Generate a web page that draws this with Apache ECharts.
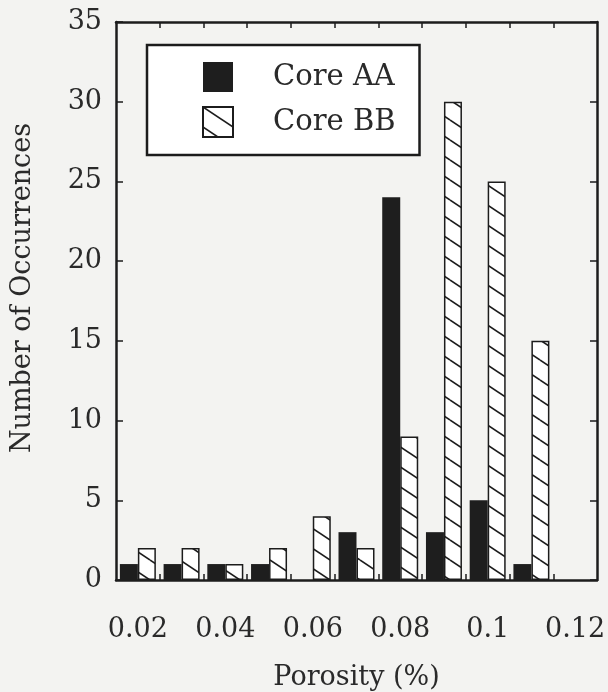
<!DOCTYPE html>
<html>
<head>
<meta charset="utf-8">
<script src="https://cdn.jsdelivr.net/npm/echarts@6/dist/echarts.min.js"></script>
<style>
  html, body { margin: 0; padding: 0; background: #f3f3f1; }
  #chart { width: 608px; height: 692px; }
</style>
</head>
<body>
<div id="chart"></div>
<script>
// porosity bins (bar pair centres)
const porosity = [0.02, 0.03, 0.04, 0.05, 0.06, 0.07, 0.08, 0.09, 0.10, 0.11];
const coreAA = [1, 1, 1, 1, 0, 3, 24, 3, 5, 1];
const coreBB = [2, 2, 1, 2, 4, 2, 9, 30, 25, 15];

// axis labels and bin-edge ticks
const xLabelValues = [0.02, 0.04, 0.06, 0.08, 0.1, 0.12];
const xTickValues = [0.025, 0.035, 0.045, 0.055, 0.065, 0.075, 0.085, 0.095, 0.105, 0.115];

const FONT = 'DejaVu Serif';
const INK = '#1c1c1c';
const TEXT = '#2a2a2a';

// diagonal hatch for Core BB
function hatchPattern() {
    const c = document.createElement('canvas');
    c.width = 30;
    c.height = 20;
    const ctx = c.getContext('2d');
    ctx.fillStyle = '#ffffff';
    ctx.fillRect(0, 0, 30, 20);
    ctx.strokeStyle = INK;
    ctx.lineWidth = 1.6;
    for (let k = -1; k <= 1; k++) {
        ctx.beginPath();
        ctx.moveTo(0, k * 20);
        ctx.lineTo(30, k * 20 + 20);
        ctx.stroke();
    }
    return c;
}

const chart = echarts.init(document.getElementById('chart'));

const lineStyle = { color: INK, width: 2.5 };
const tickStyle = { color: INK, width: 1.5 };

chart.setOption({
    backgroundColor: '#f3f3f1',
    animation: false,
    grid: { left: 116, right: 11, top: 22, bottom: 112, outerBoundsMode: 'none' },
    legend: {
        left: 147,
        top: 45,
        orient: 'vertical',
        backgroundColor: '#ffffff',
        borderColor: INK,
        borderWidth: 2.5,
        padding: [17, 24, 17, 55],
        itemWidth: 30,
        itemHeight: 30,
        itemGap: 14,
        icon: 'rect',
        textStyle: {
            fontFamily: FONT,
            fontSize: 29,
            color: TEXT,
            padding: [0, 0, 0, 35]
        },
        data: ['Core AA', 'Core BB']
    },
    xAxis: [{
        type: 'value',
        min: 0.015,
        max: 0.125,
        position: 'bottom',
        name: 'Porosity (%)',
        nameLocation: 'middle',
        nameGap: 84,
        nameTextStyle: { fontFamily: FONT, fontSize: 27, color: TEXT },
        axisLine: { onZero: false, lineStyle: lineStyle },
        splitLine: { show: false },
        axisTick: { inside: true, length: 6, customValues: xTickValues, lineStyle: tickStyle },
        axisLabel: {
            customValues: xLabelValues,
            margin: 36,
            fontFamily: FONT,
            fontSize: 27,
            color: TEXT
        }
    }, {
        type: 'value',
        min: 0.015,
        max: 0.125,
        position: 'top',
        axisLine: { onZero: false, lineStyle: lineStyle },
        splitLine: { show: false },
        axisTick: { inside: true, length: 6, customValues: xTickValues, lineStyle: tickStyle },
        axisLabel: { show: false }
    }],
    yAxis: [{
        type: 'value',
        min: 0,
        max: 35,
        interval: 5,
        position: 'left',
        name: 'Number of Occurrences',
        nameLocation: 'middle',
        nameGap: 80,
        nameTextStyle: { fontFamily: FONT, fontSize: 27, color: TEXT, padding: [0, 0, 0, 26] },
        axisLine: { show: true, onZero: false, lineStyle: lineStyle },
        splitLine: { show: false },
        axisTick: { show: true, inside: true, length: 7, lineStyle: tickStyle },
        axisLabel: { margin: 14, fontFamily: FONT, fontSize: 27, color: TEXT }
    }, {
        type: 'value',
        min: 0,
        max: 35,
        interval: 5,
        position: 'right',
        axisLine: { show: true, onZero: false, lineStyle: lineStyle },
        splitLine: { show: false },
        axisTick: { show: true, inside: true, length: 7, lineStyle: tickStyle },
        axisLabel: { show: false }
    }],
    series: [{
        name: 'Core AA',
        type: 'bar',
        barWidth: 18,
        barGap: '0%',
        itemStyle: { color: '#1e1e1e', borderWidth: 0 },
        data: porosity.map((x, i) => [x, coreAA[i]])
    }, {
        name: 'Core BB',
        type: 'bar',
        barWidth: 18,
        barGap: '0%',
        itemStyle: {
            color: { image: hatchPattern(), repeat: 'repeat' },
            borderColor: INK,
            borderWidth: 1.5
        },
        data: porosity.map((x, i) => [x, coreBB[i]])
    }]
});
</script>
</body>
</html>
